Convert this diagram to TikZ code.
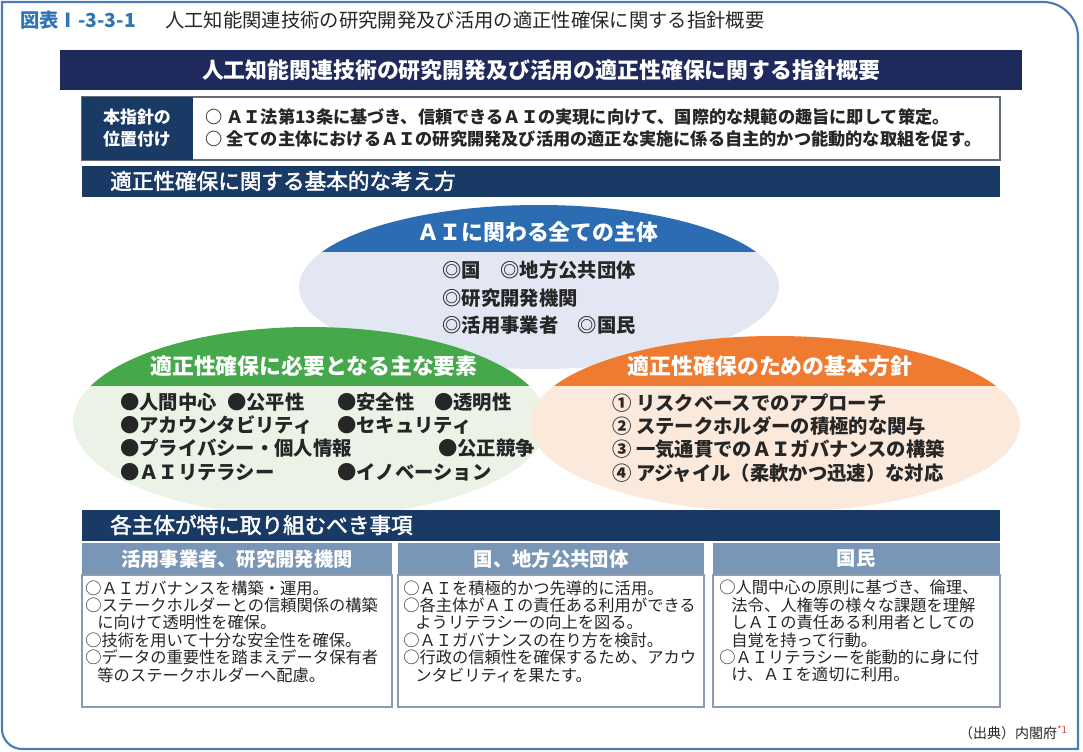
\documentclass[tikz,border=0pt]{standalone}
\usepackage{fontspec}
\setmainfont{Noto Sans CJK JP}
\newfontfamily\barfont{Noto Sans CJK JP}[FakeBold=2]
\usepackage{xcolor}
\usepackage{tikz}
\usetikzlibrary{positioning}

\definecolor{frameblue}{HTML}{4A7DB5}
\definecolor{figblue}{HTML}{2F75B5}
\definecolor{navy}{HTML}{1F2A5C}
\definecolor{barblue}{HTML}{1A3A66}
\definecolor{capblue}{HTML}{2B6CB3}
\definecolor{topbody}{HTML}{E3E7F4}
\definecolor{capgreen}{HTML}{45A84A}
\definecolor{leftbody}{HTML}{EBF3E7}
\definecolor{caporange}{HTML}{EE7B30}
\definecolor{rightbody}{HTML}{FBE9DB}
\definecolor{headblue}{HTML}{7A96B6}
\definecolor{boxgray}{HTML}{8C9BB0}
\definecolor{inkgray}{HTML}{262626}
\definecolor{notered}{HTML}{E0443E}

\begin{document}
\begin{tikzpicture}[x=0.75pt, y=-0.75pt,
  txt/.style={inner sep=0pt},
  heading/.style={txt, text=white, font=\bfseries\fontsize{16.4pt}{19pt}\selectfont},
  bartext/.style={txt, anchor=west, text=white, font=\barfont\fontsize{16.2pt}{19pt}\selectfont},
  item/.style={txt, anchor=west, align=left, text=inkgray, font=\bfseries\fontsize{14.5pt}{17.5pt}\selectfont},
  coltitle/.style={txt, text=white, font=\bfseries\fontsize{14.5pt}{17pt}\selectfont},
  colbody/.style={fill=white, draw=boxgray, line width=0.8pt},
  coltext/.style={txt, anchor=north west, align=left, text=inkgray, font=\fontsize{12.2pt}{13.05pt}\selectfont}
]
\useasboundingbox (0,0) rectangle (1083,751);

% frame and title
\draw[frameblue, line width=1.6pt] (2,729) -- (2,2) -- (1043,2)
  arc[start angle=90, end angle=0, radius=26.25pt] -- (1078,749) -- (22,749)
  arc[start angle=270, end angle=180, radius=15pt] -- cycle;
\node[txt, anchor=west, text=figblue, font=\bfseries\fontsize{14.5pt}{17pt}\selectfont] (fignum) at (20,20) {図表Ⅰ-3-3-1};
\node[txt, anchor=west, text=inkgray, font=\fontsize{14.5pt}{17pt}\selectfont] (figtitle) at (165,20) {人工知能関連技術の研究開発及び活用の適正性確保に関する指針概要};

% main banner
\fill[navy] (60,50) rectangle (1022,90);
\node[heading] (banner) at (541,70) {人工知能関連技術の研究開発及び活用の適正性確保に関する指針概要};

% position of guideline
\draw[boxgray!70!black, fill=white, line width=1pt] (82,97) rectangle (1000,160);
\fill[barblue] (82,97) rectangle (193,160);
\node[txt, align=center, text=white, font=\bfseries\fontsize{12.7pt}{16.5pt}\selectfont] (poslabel) at (137,128) {本指針の\\位置付け};
\node[txt, anchor=west, align=left, text=inkgray, font=\bfseries\fontsize{12.9pt}{16.5pt}\selectfont] (postext) at (205,128)
  {○ ＡＩ法第13条に基づき、信頼できるＡＩの実現に向けて、国際的な規範の趣旨に即して策定。\\
   ○ 全ての主体におけるＡＩの研究開発及び活用の適正な実施に係る自主的かつ能動的な取組を促す。};

% basic approach
\fill[barblue] (82,166) rectangle (1000,197);
\node[bartext] (approach) at (110,181) {適正性確保に関する基本的な考え方};

% three ellipses
\fill[topbody] (539,287) ellipse [x radius=180pt, y radius=61.5pt];
\begin{scope}
  \clip (539,287) ellipse [x radius=180pt, y radius=61.5pt];
  \fill[capblue] (280,200) rectangle (800,252);
\end{scope}
\fill[leftbody] (310,422) ellipse [x radius=177.75pt, y radius=71.25pt];
\begin{scope}
  \clip (310,422) ellipse [x radius=177.75pt, y radius=71.25pt];
  \fill[capgreen] (60,320) rectangle (560,386);
\end{scope}
\fill[rightbody] (775,424) ellipse [x radius=183.75pt, y radius=66pt];
\begin{scope}
  \clip (775,424) ellipse [x radius=183.75pt, y radius=66pt];
  \fill[caporange] (520,330) rectangle (1030,386);
\end{scope}

\node[heading] (actors) at (538,232) {ＡＩに関わる全ての主体};
\node[item, anchor=center, font=\bfseries\fontsize{14.5pt}{20.6pt}\selectfont] (actorlist) at (539,298)
  {◎国　◎地方公共団体\\◎研究開発機関\\◎活用事業者　◎国民};

\node[heading] (elements) at (314,366) {適正性確保に必要となる主な要素};
\foreach \px/\py/\txt [count=\i] in {
    120/402/●人間中心, 227/402/●公平性, 337/402/●安全性, 434/402/●透明性,
    120/425/●アカウンタビリティ, 337/425/●セキュリティ,
    120/448/●プライバシー・個人情報, 438/448/●公正競争,
    120/472/●ＡＩリテラシー, 337/472/●イノベーション}
  \node[item] (elem\i) at (\px,\py) {\txt};

\node[heading] (policy) at (770,366) {適正性確保のための基本方針};
\node[item] (policylist) at (612,438)
  {① リスクベースでのアプローチ\\
   ② ステークホルダーの積極的な関与\\
   ③ 一気通貫でのＡＩガバナンスの構築\\
   ④ アジャイル（柔軟かつ迅速）な対応};

% what each actor should do
\fill[barblue] (82,510) rectangle (1000,541);
\node[bartext] (actions) at (110,525) {各主体が特に取り組むべき事項};

\fill[headblue] (82,543) rectangle (392,575);
\fill[headblue] (398,543) rectangle (704,575);
\fill[headblue] (713,543) rectangle (1000,575);
\draw[colbody] (82,575) rectangle (392,707);
\draw[colbody] (398,575) rectangle (704,707);
\draw[colbody] (713,575) rectangle (1000,707);

\node[coltitle] (bizhead) at (237,559) {活用事業者、研究開発機関};
\node[coltitle] (govhead) at (551,559) {国、地方公共団体};
\node[coltitle] (citizenhead) at (856,559) {国民};

\node[coltext] (bizbody) at (85,580)
  {○ＡＩガバナンスを構築・運用。\\
   ○ステークホルダーとの信頼関係の構築\\
   \hspace*{0.75em}に向けて透明性を確保。\\
   ○技術を用いて十分な安全性を確保。\\
   ○データの重要性を踏まえデータ保有者\\
   \hspace*{0.75em}等のステークホルダーへ配慮。};
\node[coltext] (govbody) at (403,580)
  {○ＡＩを積極的かつ先導的に活用。\\
   ○各主体がＡＩの責任ある利用ができる\\
   \hspace*{0.75em}ようリテラシーの向上を図る。\\
   ○ＡＩガバナンスの在り方を検討。\\
   ○行政の信頼性を確保するため、アカウ\\
   \hspace*{0.75em}ンタビリティを果たす。};
\node[coltext] (citizenbody) at (719,580)
  {○人間中心の原則に基づき、倫理、\\
   \hspace*{0.75em}法令、人権等の様々な課題を理解\\
   \hspace*{0.75em}しＡＩの責任ある利用者としての\\
   \hspace*{0.75em}自覚を持って行動。\\
   ○ＡＩリテラシーを能動的に身に付\\
   \hspace*{0.75em}け、ＡＩを適切に利用。};

% source
\node[txt, anchor=east, text=inkgray, font=\fontsize{10.5pt}{12pt}\selectfont] (source) at (1068,733)
  {（出典）内閣府\textsuperscript{\color{notered}*1}};
\end{tikzpicture}
\end{document}
